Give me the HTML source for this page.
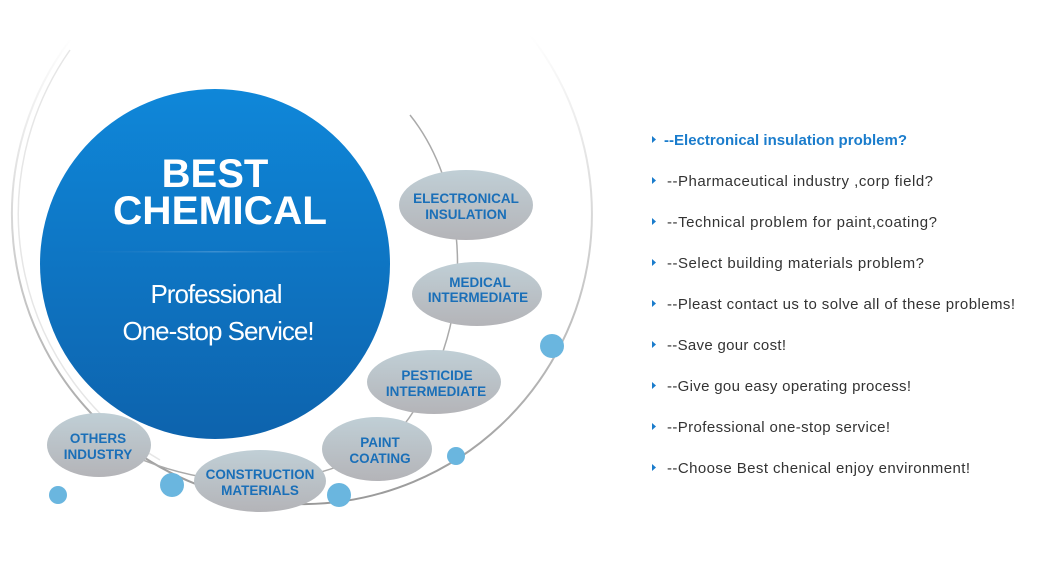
<!DOCTYPE html>
<html><head><meta charset="utf-8"><style>
body{margin:0;width:1061px;height:574px;background:#fff;overflow:hidden;font-family:"Liberation Sans",sans-serif}
</style></head><body>
<svg width="1061" height="574" viewBox="0 0 1061 574" xmlns="http://www.w3.org/2000/svg">
<defs>
<linearGradient id="bg" x1="0" y1="0" x2="0" y2="1"><stop offset="0" stop-color="#0f87d9"/><stop offset="1" stop-color="#0d63ad"/></linearGradient>
<linearGradient id="eg" x1="0" y1="0" x2="0" y2="1"><stop offset="0" stop-color="#c0cfd6"/><stop offset="1" stop-color="#b4b4b8"/></linearGradient>
<linearGradient id="og" x1="0" y1="0" x2="0" y2="1"><stop offset="0" stop-color="#fff"/><stop offset="0.5" stop-color="#ccc"/><stop offset="1" stop-color="#999"/></linearGradient>
<linearGradient id="lg" x1="0" y1="0" x2="1" y2="0"><stop offset="0" stop-color="#1a78c2" stop-opacity="0"/><stop offset="0.5" stop-color="#3b8fd0"/><stop offset="1" stop-color="#1a78c2" stop-opacity="0"/></linearGradient>
</defs>
<path d="M70 40 A290 290 0 1 0 530 35" fill="none" stroke="url(#og)" stroke-width="2"/>
<path d="M70 50 A285 285 0 0 0 160 460" fill="none" stroke="#e6e6e6" stroke-width="1.5"/>
<path d="M410 115 C470 190, 480 330, 400 430 C320 500, 180 500, 70 420" fill="none" stroke="#aaa" stroke-width="1.5"/>
<circle cx="215" cy="264" r="175" fill="url(#bg)"/>
<rect x="75" y="251" width="280" height="1.5" fill="url(#lg)"/>
<text x="215" y="187" text-anchor="middle" fill="#fff" font-size="40" font-weight="bold">BEST</text>
<text x="220" y="224" text-anchor="middle" fill="#fff" font-size="40" font-weight="bold" textLength="214" lengthAdjust="spacingAndGlyphs">CHEMICAL</text>
<text x="216" y="303" text-anchor="middle" fill="#fff" font-size="26" letter-spacing="-1">Professional</text>
<text x="218" y="340" text-anchor="middle" fill="#fff" font-size="26" letter-spacing="-1">One-stop Service!</text>
<g font-size="13.5" font-weight="bold" fill="#1a6fb8" text-anchor="middle">
<ellipse cx="466" cy="205" rx="67" ry="35" fill="url(#eg)"/><text x="466" y="203">ELECTRONICAL</text><text x="466" y="219">INSULATION</text>
<ellipse cx="477" cy="294" rx="65" ry="32" fill="url(#eg)"/><text x="480" y="287">MEDICAL</text><text x="478" y="302">INTERMEDIATE</text>
<ellipse cx="434" cy="382" rx="67" ry="32" fill="url(#eg)"/><text x="437" y="380">PESTICIDE</text><text x="436" y="396">INTERMEDIATE</text>
<ellipse cx="377" cy="449" rx="55" ry="32" fill="url(#eg)"/><text x="380" y="447">PAINT</text><text x="380" y="463">COATING</text>
<ellipse cx="260" cy="481" rx="66" ry="31" fill="url(#eg)"/><text x="260" y="479">CONSTRUCTION</text><text x="260" y="495">MATERIALS</text>
<ellipse cx="99" cy="445" rx="52" ry="32" fill="url(#eg)"/><text x="98" y="443">OTHERS</text><text x="98" y="459">INDUSTRY</text>
</g>
<g fill="#6ab6df">
<circle cx="552" cy="346" r="12"/><circle cx="456" cy="456" r="9"/><circle cx="339" cy="495" r="12"/><circle cx="172" cy="485" r="12"/><circle cx="58" cy="495" r="9"/>
</g>
<g font-size="15" fill="#333" lengthAdjust="spacingAndGlyphs">
<g fill="#1a7ccc"><path d="M652 136l4 3.5-4 3.5z"/><path d="M652 177l4 3.5-4 3.5z"/><path d="M652 218l4 3.5-4 3.5z"/><path d="M652 259l4 3.5-4 3.5z"/><path d="M652 300l4 3.5-4 3.5z"/><path d="M652 341l4 3.5-4 3.5z"/><path d="M652 382l4 3.5-4 3.5z"/><path d="M652 423l4 3.5-4 3.5z"/><path d="M652 464l4 3.5-4 3.5z"/></g>
<text x="664" y="145" fill="#1a7ccc" font-weight="bold" textLength="243">--Electronical insulation problem?</text>
<text x="667" y="186" textLength="266">--Pharmaceutical industry ,corp field?</text>
<text x="667" y="227" textLength="270">--Technical problem for paint,coating?</text>
<text x="667" y="268" textLength="257">--Select building materials problem?</text>
<text x="667" y="309" textLength="348">--Pleast contact us to solve all of these problems!</text>
<text x="667" y="350" textLength="119">--Save gour cost!</text>
<text x="667" y="391" textLength="244">--Give gou easy operating process!</text>
<text x="667" y="432" textLength="223">--Professional one-stop service!</text>
<text x="667" y="473" textLength="303">--Choose Best chenical enjoy environment!</text>
</g>
</svg>
</body></html>
